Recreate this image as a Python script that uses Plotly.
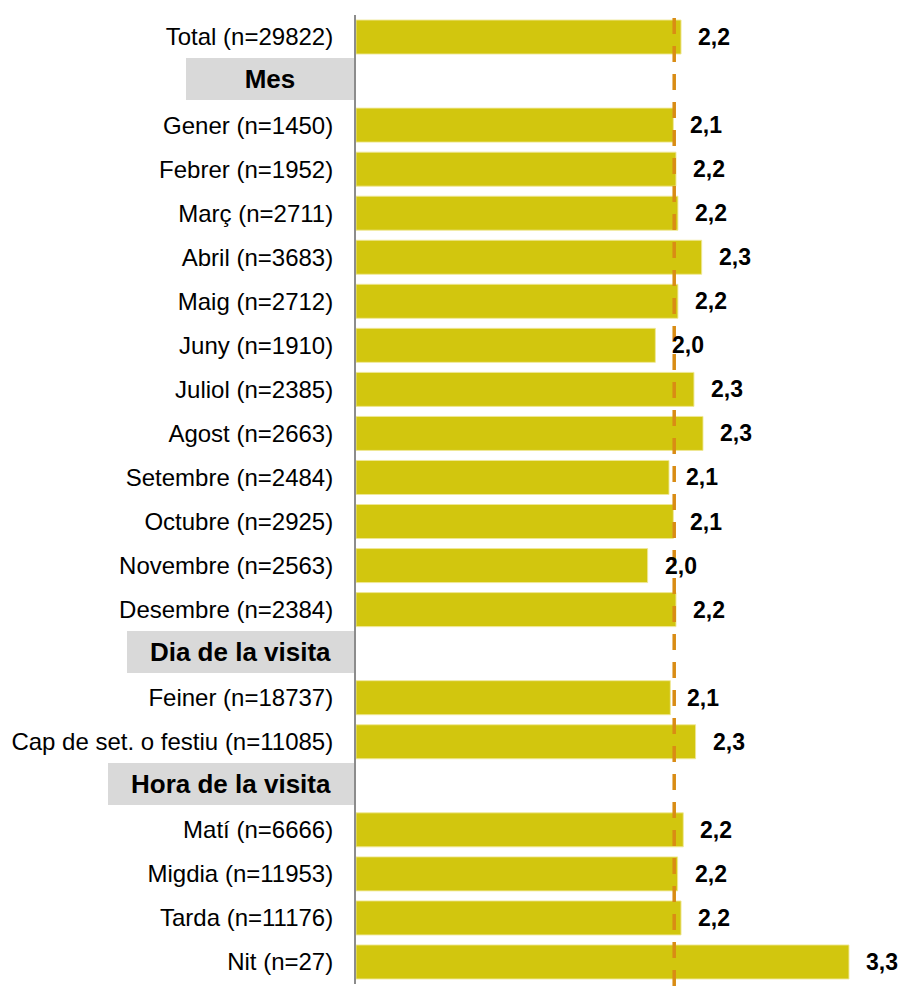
import plotly.graph_objects as go

# ---- data ----
categories = [
    "Total (n=29822)",
    "Mes",
    "Gener (n=1450)", "Febrer (n=1952)", "Març (n=2711)", "Abril (n=3683)",
    "Maig (n=2712)", "Juny (n=1910)", "Juliol (n=2385)", "Agost (n=2663)",
    "Setembre (n=2484)", "Octubre (n=2925)", "Novembre (n=2563)", "Desembre (n=2384)",
    "Dia de la visita",
    "Feiner (n=18737)", "Cap de set. o festiu (n=11085)",
    "Hora de la visita",
    "Matí (n=6666)", "Migdia (n=11953)", "Tarda (n=11176)", "Nit (n=27)",
]
values = [
    2.189,
    None,
    2.137, 2.155, 2.168, 2.328,
    2.168, 2.016, 2.276, 2.337,
    2.108, 2.137, 1.964, 2.155,
    None,
    2.117, 2.287,
    None,
    2.204, 2.166, 2.189, 3.320,
]
headers = ["Mes", "Dia de la visita", "Hora de la visita"]
mitjana = 2.143  # dashed reference line

# ---- styles ----
BAR = "rgb(210,198,14)"
DASH = "rgb(217,140,20)"
FONT = "Arial, Liberation Sans, sans-serif"
header_box_width = {"Mes": 168, "Dia de la visita": 227, "Hora de la visita": 246}

fig = go.Figure()
fig.add_trace(go.Bar(
    y=categories, x=values, orientation="h",
    marker=dict(color=BAR, line=dict(color="rgba(240,232,150,0.9)", width=1)),
    hoverinfo="x+y",
))

annotations = []
for c, v in zip(categories, values):
    if v is None:
        continue
    annotations.append(dict(
        x=v, y=c, xref="x", yref="y", text=f"{v:.1f}".replace(".", ","),
        showarrow=False, xanchor="left", yanchor="middle", xshift=15,
        font=dict(family=FONT, size=23, color="black", weight="bold"),
    ))
for h in headers:
    annotations.append(dict(
        x=0, y=h, xref="paper", yref="y", text=f"<b>{h}</b>",
        showarrow=False, xanchor="right", yanchor="middle", xshift=-2, yshift=2,
        width=header_box_width[h], height=42, align="center", valign="middle",
        bgcolor="#d9d9d9", borderpad=0, borderwidth=0,
        font=dict(family=FONT, size=26, color="black"),
    ))

ticktext = ["" if c in headers else c for c in categories]

fig.update_layout(
    width=901, height=988,
    margin=dict(l=356, r=10, t=15, b=4),
    plot_bgcolor="white", paper_bgcolor="white",
    bargap=0.228,
    showlegend=False,
    annotations=annotations,
    shapes=[dict(
        type="line", xref="x", yref="paper", x0=mitjana, x1=mitjana,
        y0=-0.002, y1=1.005, layer="above",
        line=dict(color=DASH, width=3.5, dash="16px,12px"),
    )],
    xaxis=dict(range=[0, 3.603], visible=False, showgrid=False, zeroline=False),
    yaxis=dict(
        type="category", categoryorder="array", categoryarray=categories,
        autorange="reversed",
        tickvals=categories, ticktext=ticktext,
        showline=True, linecolor="#8c8c8c", linewidth=2,
        showgrid=False, zeroline=False, ticks="",
        ticklabelstandoff=16,
        tickfont=dict(family=FONT, size=24, color="black"),
    ),
)

fig.write_html(
    "out.html",
    config={"displayModeBar": False},
    post_script="document.body.style.margin='0';document.body.style.overflow='hidden';",
)
